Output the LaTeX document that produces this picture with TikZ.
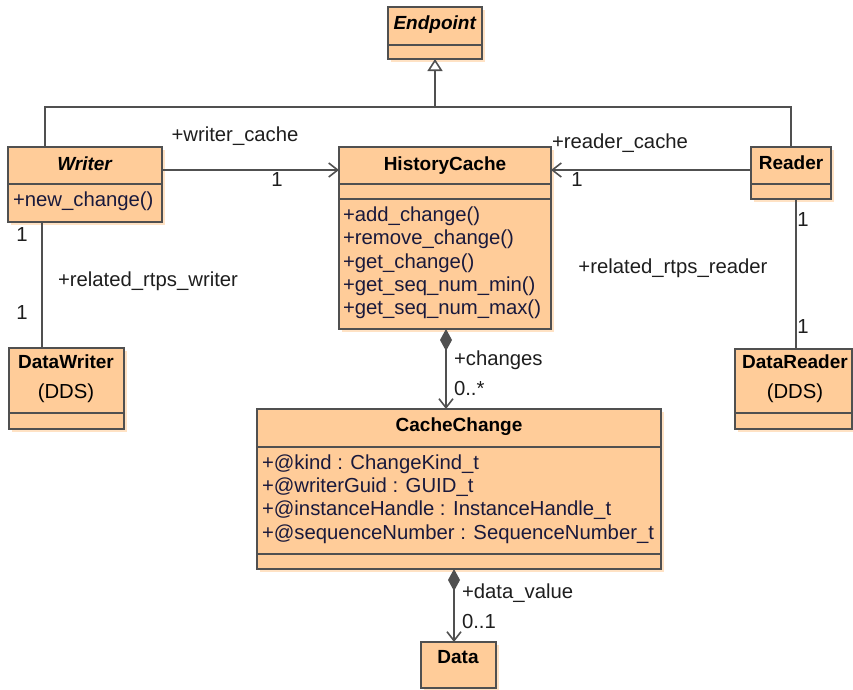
\documentclass[tikz,border=0pt]{standalone}
\usepackage{fontspec}
\setmainfont{Liberation Sans}
\usetikzlibrary{arrows.meta,shadows}
\definecolor{classfill}{RGB}{255,204,153}
\definecolor{classshadow}{RGB}{255,226,196}
\definecolor{classline}{RGB}{80,80,80}
\definecolor{membertext}{RGB}{25,25,60}
\definecolor{labeltext}{RGB}{30,30,30}
\newcommand\umlfont{\fontsize{20.3}{22}\selectfont}
\newcommand\umltitlefont{\fontsize{19}{22}\selectfont\bfseries}

\begin{document}
\begin{tikzpicture}[x=1pt,y=-1pt,
    every node/.style={inner sep=0pt,outer sep=0pt,text height=13.6pt,text depth=0pt},
    class/.style={draw=classline,line width=1.8pt,fill=classfill,anchor=north west,
      drop shadow={shadow xshift=2.5pt,shadow yshift=-2.5pt,fill=classshadow,opacity=1}},
    title/.style={font=\umltitlefont},
    member/.style={font=\umlfont,text=membertext,anchor=west},
    lbl/.style={font=\umlfont,text=labeltext},
    conn/.style={draw=classline,line width=1.6pt},
    assoc/.style={conn,-{Straight Barb[length=9pt,width=14pt]}},
    inherit/.style={conn,-{Triangle[open,length=12pt,width=15pt,fill=white]}},
    comp/.style={conn,{Diamond[length=22pt,width=12pt,fill=classline]}-{Straight Barb[length=9pt,width=14pt]}}]
  \useasboundingbox (0,0) rectangle (853,689);
  % class boxes
  \node[class,minimum width=94pt,minimum height=52pt] (ep) at (388,7) {};
  \node[class,minimum width=154pt,minimum height=75pt] (wr) at (8,147) {};
  \node[class,minimum width=212pt,minimum height=182pt] (hc) at (339,147) {};
  \node[class,minimum width=80pt,minimum height=52pt] (rd) at (751,147) {};
  \node[class,minimum width=115pt,minimum height=81pt] (dw) at (9,348) {};
  \node[class,minimum width=117pt,minimum height=80pt] (dr) at (735,349) {};
  \node[class,minimum width=404pt,minimum height=160pt] (cc) at (257,409) {};
  \node[class,minimum width=75pt,minimum height=46pt] (dt) at (421,642) {};
  % compartments
  \draw[conn] (ep.west |- 0,45) -- (ep.east |- 0,45);
  \draw[conn] (wr.west |- 0,184) -- (wr.east |- 0,184);
  \draw[conn] (hc.west |- 0,184) -- (hc.east |- 0,184);
  \draw[conn] (hc.west |- 0,199) -- (hc.east |- 0,199);
  \draw[conn] (rd.west |- 0,184) -- (rd.east |- 0,184);
  \draw[conn] (dw.west |- 0,413) -- (dw.east |- 0,413);
  \draw[conn] (dr.west |- 0,413) -- (dr.east |- 0,413);
  \draw[conn] (cc.west |- 0,447) -- (cc.east |- 0,447);
  \draw[conn] (cc.west |- 0,554) -- (cc.east |- 0,554);
  % names
  \node[title] (epname) at (435,23) {\textit{Endpoint}};
  \node[title] (wrname) at (85,164) {\textit{Writer}};
  \node[title] (hcname) at (445,164) {HistoryCache};
  \node[title] (rdname) at (791,163) {Reader};
  \node[title] (dwname) at (66,362) {DataWriter};
  \node[font=\umlfont] (dwdds) at (66,392) {(DDS)};
  \node[title] (drname) at (795,362) {DataReader};
  \node[font=\umlfont] (drdds) at (795,392) {(DDS)};
  \node[title] (ccname) at (459,425) {CacheChange};
  \node[title] (dtname) at (458,657) {Data};
  % members
  \node[member] (wrop) at (13,200) {+new\_change()};
  \node[member] (hcop1) at (343,215) {+add\_change()};
  \node[member] (hcop2) at (343,238) {+remove\_change()};
  \node[member] (hcop3) at (343,262) {+get\_change()};
  \node[member] (hcop4) at (343,285) {+get\_seq\_num\_min()};
  \node[member] (hcop5) at (343,308) {+get\_seq\_num\_max()};
  \node[member] (ccat1) at (262,463) {+@kind : ChangeKind\_t};
  \node[member] (ccat2) at (262,486) {+@writerGuid : GUID\_t};
  \node[member] (ccat3) at (262,509) {+@instanceHandle : InstanceHandle\_t};
  \node[member] (ccat4) at (262,533) {+@sequenceNumber : SequenceNumber\_t};
  % generalization
  \coordinate (gen) at (435,107);
  \draw[inherit] (gen) -- (ep.south);
  \draw[conn] ([xshift=37pt]wr.north west) |- (gen) -| (rd.north);
  % associations
  \draw[assoc] ([yshift=-23pt]wr.north east) -- ([yshift=-23pt]hc.north west);
  \draw[assoc] ([yshift=-23pt]rd.north west) -- ([yshift=-23pt]hc.north east);
  \draw[conn] ([xshift=34pt]wr.south west) -- ([xshift=33pt]dw.north west);
  \draw[conn] ([xshift=45pt]rd.south west) -- ([xshift=61pt]dr.north west);
  \draw[comp] ([xshift=1pt]hc.south) -- ([xshift=-13pt]cc.north);
  \draw[comp] ([xshift=-5pt]cc.south) -- ([xshift=-4.5pt]dt.north);
  % role names and multiplicities
  \node[lbl] (wcache) at (235,135) {+writer\_cache};
  \node[lbl] (wcone) at (277,180) {1};
  \node[lbl] (rcache) at (620,142) {+reader\_cache};
  \node[lbl] (rcone) at (577,180) {1};
  \node[lbl] (rwrole) at (148,280) {+related\_rtps\_writer};
  \node[lbl] (rwone) at (22,235) {1};
  \node[lbl] (rwtwo) at (22,313) {1};
  \node[lbl] (rrrole) at (673,267) {+related\_rtps\_reader};
  \node[lbl] (rrone) at (803,220) {1};
  \node[lbl] (rrtwo) at (803,327) {1};
  \node[lbl,anchor=west] (chrole) at (454,359) {+changes};
  \node[lbl,anchor=west] (chmult) at (454,389) {0..*};
  \node[lbl,anchor=west] (dvrole) at (462,592) {+data\_value};
  \node[lbl,anchor=west] (dvmult) at (462,622) {0..1};
\end{tikzpicture}
\end{document}
